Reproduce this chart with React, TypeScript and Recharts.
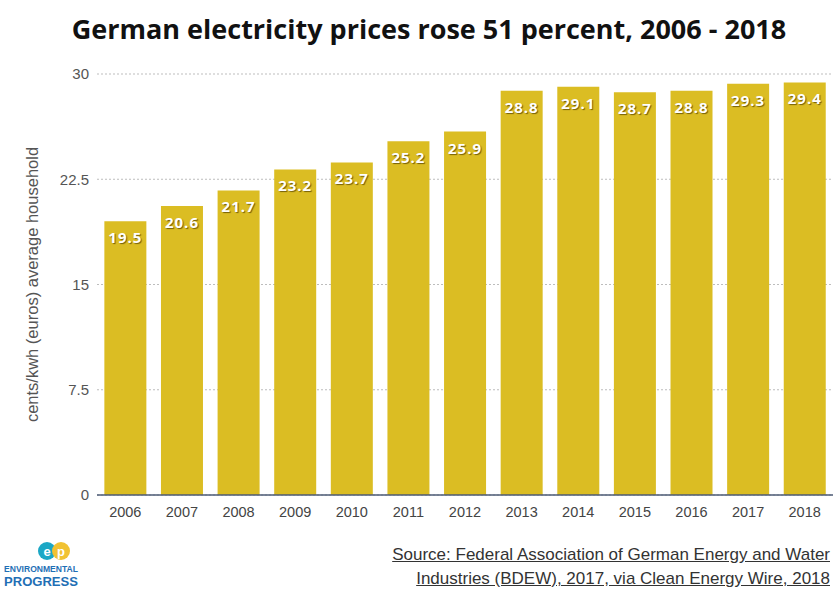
import React from 'react';
import { BarChart, Bar, XAxis, YAxis, CartesianGrid, LabelList } from 'recharts';

const years = ['2006', '2007', '2008', '2009', '2010', '2011', '2012', '2013', '2014', '2015', '2016', '2017', '2018'];
const prices = [19.5, 20.6, 21.7, 23.2, 23.7, 25.2, 25.9, 28.8, 29.1, 28.7, 28.8, 29.3, 29.4];
const yTicks = [0, 7.5, 15, 22.5, 30];

const data = years.map((y, i) => ({ year: y, price: prices[i] }));

const BarLabel = (props: any) => {
  const { x, y, width, value } = props;
  return (
    <text
      x={x + width / 2}
      y={y + 16}
      textAnchor="middle"
      dominantBaseline="central"
      fill="#ffffff"
      fontFamily="'Open Sans', sans-serif"
      fontWeight={700}
      fontSize={15}
      letterSpacing={1}
      style={{ textShadow: '1px 1px 1px rgba(90,70,0,0.8)' }}
    >
      {value}
    </text>
  );
};

export default function App() {
  return (
    <div style={{ position: 'absolute', left: 0, top: 0, width: 833, height: 589, background: '#fff', overflow: 'hidden' }}>
      <div
        style={{
          position: 'absolute', left: 0, top: 11, width: 858, textAlign: 'center', lineHeight: '36px',
          fontFamily: "'Open Sans', sans-serif", fontWeight: 700, fontSize: 27, color: '#111',
        }}
      >
        German electricity prices rose 51 percent, 2006 - 2018
      </div>
      <div style={{ position: 'absolute', left: 0, top: 0 }}>
        <BarChart width={833} height={589} data={data} margin={{ top: 74, right: 0, left: 0, bottom: 64 }} barCategoryGap="13%">
          <CartesianGrid vertical={false} stroke="#bdbdbd" strokeDasharray="2 2" />
          <XAxis
            dataKey="year"
            height={30}
            tickLine={false}
            tickSize={0}
            tickMargin={12}
            axisLine={{ stroke: '#4d5b76', strokeWidth: 1.5 }}
            tick={{ fill: '#444', fontSize: 14.5, fontFamily: "'Liberation Sans', Arial, sans-serif" }}
            interval={0}
          />
          <YAxis
            width={97}
            domain={[0, 30]}
            ticks={yTicks}
            tickLine={false}
            axisLine={false}
            tickSize={0}
            tickMargin={8}
            tick={{ fill: '#555', fontSize: 15, fontFamily: "'Liberation Sans', Arial, sans-serif" }}
            label={{
              value: 'cents/kwh (euros) average household',
              angle: -90,
              position: 'insideLeft',
              dx: 27,
              dy: 0,
              style: { textAnchor: 'middle', fill: '#555', fontSize: 16.5, fontFamily: "'Liberation Sans', Arial, sans-serif" },
            }}
          />
          <Bar dataKey="price" fill="#dbbd23" isAnimationActive={false}>
            <LabelList dataKey="price" content={BarLabel} />
          </Bar>
        </BarChart>
      </div>
      <svg style={{ position: 'absolute', left: 0, top: 538 }} width={90} height={51}>
        <circle cx={47} cy={13} r={9} fill="#1ba7c5" />
        <circle cx={61} cy={13} r={9} fill="#f1c232" />
        <text x={47} y={17.5} textAnchor="middle" fill="#fff" fontSize={13} fontWeight={700} fontFamily="sans-serif">e</text>
        <text x={61} y={17.5} textAnchor="middle" fill="#fff" fontSize={13} fontWeight={700} fontFamily="sans-serif">p</text>
        <text x={4} y={34} textLength={74} lengthAdjust="spacingAndGlyphs" fill="#1f6fb5" fontSize={8.5} fontWeight={700} fontFamily="'Liberation Sans', sans-serif">ENVIRONMENTAL</text>
        <text x={4} y={48} textLength={74} lengthAdjust="spacingAndGlyphs" fill="#1f6fb5" fontSize={12.5} fontWeight={700} fontFamily="'Liberation Sans', sans-serif">PROGRESS</text>
      </svg>
      <div
        style={{
          position: 'absolute', right: 3, top: 543, textAlign: 'right',
          fontFamily: "'Liberation Sans', sans-serif", fontSize: 17, color: '#333',
          lineHeight: '24px', textDecoration: 'underline',
        }}
      >
        Source: Federal Association of German Energy and Water
        <br />
        Industries (BDEW), 2017, via Clean Energy Wire, 2018
      </div>
    </div>
  );
}
